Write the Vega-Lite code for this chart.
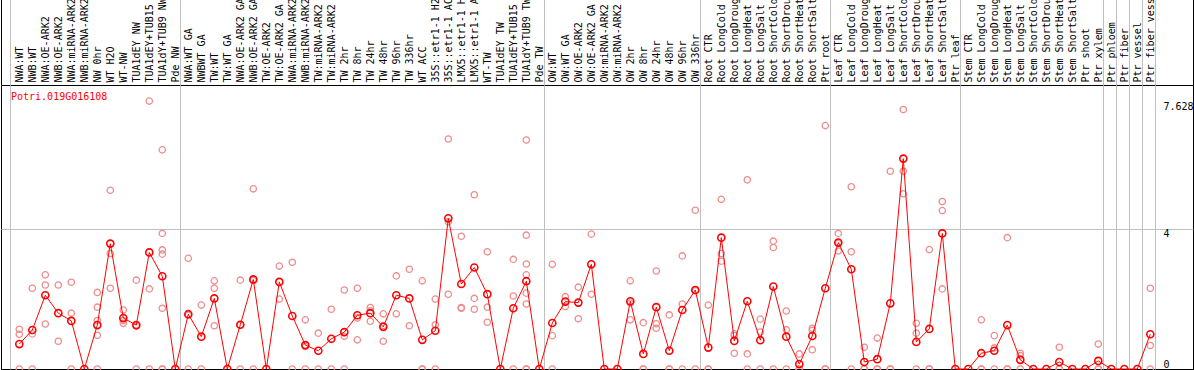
{
  "$schema": "https://vega.github.io/schema/vega-lite/v6.json",
  "width": 1192,
  "height": 284,
  "padding": {"left": 1, "top": 85, "right": 1, "bottom": 1},
  "autosize": {"type": "none"},
  "background": "white",
  "config": {
    "view": {"stroke": "black", "strokeWidth": 1},
    "font": "DejaVu Sans Mono"
  },
  "datasets": {
    "means": [
      {"gene":"Potri.019G016108","i":0,"name":"NWA:WT","v":0.71},{"gene":"Potri.019G016108","i":1,"name":"NWB:WT","v":1.11},{"gene":"Potri.019G016108","i":2,"name":"NWA:OE-ARK2","v":2.10},{"gene":"Potri.019G016108","i":3,"name":"NWB:OE-ARK2","v":1.59},
      {"gene":"Potri.019G016108","i":4,"name":"NWA:miRNA-ARK2","v":1.37},{"gene":"Potri.019G016108","i":5,"name":"NWB:miRNA-ARK2","v":0},{"gene":"Potri.019G016108","i":6,"name":"NW 0hr","v":1.25},{"gene":"Potri.019G016108","i":7,"name":"WT H2O","v":3.57},
      {"gene":"Potri.019G016108","i":8,"name":"WT-NW","v":1.45},{"gene":"Potri.019G016108","i":9,"name":"TUA1dEY NW","v":1.25},{"gene":"Potri.019G016108","i":10,"name":"TUA1dEY+TUB15 NW","v":3.32},{"gene":"Potri.019G016108","i":11,"name":"TUA1dY+TUB9 NW","v":2.64},
      {"gene":"Potri.019G016108","i":12,"name":"Pde NW","v":0},{"gene":"Potri.019G016108","i":13,"name":"NWA:WT GA","v":1.56},{"gene":"Potri.019G016108","i":14,"name":"NWBWT GA","v":0.92},{"gene":"Potri.019G016108","i":15,"name":"TW:WT","v":2.01},
      {"gene":"Potri.019G016108","i":16,"name":"TW:WT GA","v":0},{"gene":"Potri.019G016108","i":17,"name":"NWA:OE-ARK2 GA","v":1.26},{"gene":"Potri.019G016108","i":18,"name":"NWB:OE-ARK2 GA","v":2.55},{"gene":"Potri.019G016108","i":19,"name":"TW:OE-ARK2","v":0},
      {"gene":"Potri.019G016108","i":20,"name":"TW:OE-ARK2 GA","v":2.48},{"gene":"Potri.019G016108","i":21,"name":"NWA:miRNA-ARK2 GA","v":1.51},{"gene":"Potri.019G016108","i":22,"name":"NWB:miRNA-ARK2 GA","v":0.68},{"gene":"Potri.019G016108","i":23,"name":"TW:miRNA-ARK2","v":0.52},
      {"gene":"Potri.019G016108","i":24,"name":"TW:miRNA-ARK2 GA","v":0.86},{"gene":"Potri.019G016108","i":25,"name":"TW 2hr","v":1.05},{"gene":"Potri.019G016108","i":26,"name":"TW 8hr","v":1.53},{"gene":"Potri.019G016108","i":27,"name":"TW 24hr","v":1.59},
      {"gene":"Potri.019G016108","i":28,"name":"TW 48hr","v":1.20},{"gene":"Potri.019G016108","i":29,"name":"TW 96hr","v":2.10},{"gene":"Potri.019G016108","i":30,"name":"TW 336hr","v":2.01},{"gene":"Potri.019G016108","i":31,"name":"WT ACC","v":0.83},
      {"gene":"Potri.019G016108","i":32,"name":"35S::etr1-1 H2O","v":1.09},{"gene":"Potri.019G016108","i":33,"name":"35S::etr1-1 ACC","v":4.29},{"gene":"Potri.019G016108","i":34,"name":"LMX5::etr1-1 H2O","v":2.42},{"gene":"Potri.019G016108","i":35,"name":"LMX5::etr1-1 ACC","v":2.89},
      {"gene":"Potri.019G016108","i":36,"name":"WT-TW","v":2.13},{"gene":"Potri.019G016108","i":37,"name":"TUA1dEY TW","v":0},{"gene":"Potri.019G016108","i":38,"name":"TUA1dEY+TUB15 TW","v":1.73},{"gene":"Potri.019G016108","i":39,"name":"TUA1dY+TUB9 TW","v":2.50},
      {"gene":"Potri.019G016108","i":40,"name":"Pde TW","v":0},{"gene":"Potri.019G016108","i":41,"name":"OW:WT","v":1.31},{"gene":"Potri.019G016108","i":42,"name":"OW:WT GA","v":1.92},{"gene":"Potri.019G016108","i":43,"name":"OW:OE-ARK2","v":1.89},
      {"gene":"Potri.019G016108","i":44,"name":"OW:OE-ARK2 GA","v":2.98},{"gene":"Potri.019G016108","i":45,"name":"OW:miRNA-ARK2","v":0},{"gene":"Potri.019G016108","i":46,"name":"OW:miRNA-ARK2 GA","v":0},{"gene":"Potri.019G016108","i":47,"name":"OW 2hr","v":1.93},
      {"gene":"Potri.019G016108","i":48,"name":"OW 8hr","v":0.43},{"gene":"Potri.019G016108","i":49,"name":"OW 24hr","v":1.76},{"gene":"Potri.019G016108","i":50,"name":"OW 48hr","v":0.52},{"gene":"Potri.019G016108","i":51,"name":"OW 96hr","v":1.68},
      {"gene":"Potri.019G016108","i":52,"name":"OW 336hr","v":2.25},{"gene":"Potri.019G016108","i":53,"name":"Root CTR","v":0.61},{"gene":"Potri.019G016108","i":54,"name":"Root LongCold","v":3.74},{"gene":"Potri.019G016108","i":55,"name":"Root LongDrought","v":0.80},
      {"gene":"Potri.019G016108","i":56,"name":"Root LongHeat","v":1.93},{"gene":"Potri.019G016108","i":57,"name":"Root LongSalt","v":0.82},{"gene":"Potri.019G016108","i":58,"name":"Root ShortCold","v":2.35},{"gene":"Potri.019G016108","i":59,"name":"Root ShortDrought","v":0.92},
      {"gene":"Potri.019G016108","i":60,"name":"Root ShortHeat","v":0.14},{"gene":"Potri.019G016108","i":61,"name":"Root ShortSalt","v":0.94},{"gene":"Potri.019G016108","i":62,"name":"Ptr root","v":2.30},{"gene":"Potri.019G016108","i":63,"name":"Leaf CTR","v":3.60},
      {"gene":"Potri.019G016108","i":64,"name":"Leaf LongCold","v":2.84},{"gene":"Potri.019G016108","i":65,"name":"Leaf LongDrought","v":0.20},{"gene":"Potri.019G016108","i":66,"name":"Leaf LongHeat","v":0.28},{"gene":"Potri.019G016108","i":67,"name":"Leaf LongSalt","v":1.87},
      {"gene":"Potri.019G016108","i":68,"name":"Leaf ShortCold","v":5.99},{"gene":"Potri.019G016108","i":69,"name":"Leaf ShortDrought","v":0.77},{"gene":"Potri.019G016108","i":70,"name":"Leaf ShortHeat","v":1.14},{"gene":"Potri.019G016108","i":71,"name":"Leaf ShortSalt","v":3.86},
      {"gene":"Potri.019G016108","i":72,"name":"Ptr leaf","v":0},{"gene":"Potri.019G016108","i":73,"name":"Stem CTR","v":0},{"gene":"Potri.019G016108","i":74,"name":"Stem LongCold","v":0.45},{"gene":"Potri.019G016108","i":75,"name":"Stem LongDrought","v":0.52},
      {"gene":"Potri.019G016108","i":76,"name":"Stem LongHeat","v":1.25},{"gene":"Potri.019G016108","i":77,"name":"Stem LongSalt","v":0.26},{"gene":"Potri.019G016108","i":78,"name":"Stem ShortCold","v":0},{"gene":"Potri.019G016108","i":79,"name":"Stem ShortDrought","v":0},
      {"gene":"Potri.019G016108","i":80,"name":"Stem ShortHeat","v":0.20},{"gene":"Potri.019G016108","i":81,"name":"Stem ShortSalt","v":0},{"gene":"Potri.019G016108","i":82,"name":"Ptr shoot","v":0},{"gene":"Potri.019G016108","i":83,"name":"Ptr xylem","v":0.23},
      {"gene":"Potri.019G016108","i":84,"name":"Ptr phloem","v":0},{"gene":"Potri.019G016108","i":85,"name":"Ptr fiber","v":0},{"gene":"Potri.019G016108","i":86,"name":"Ptr vessel","v":0},{"gene":"Potri.019G016108","i":87,"name":"Ptr fiber vessel","v":0.99}
    ],
    "reps": [
      {"i":0,"v":1.13},{"i":0,"v":0.99},{"i":0,"v":0},
      {"i":1,"v":2.30},{"i":1,"v":1.00},{"i":1,"v":0},
      {"i":2,"v":2.68},{"i":2,"v":2.39},{"i":2,"v":1.28},
      {"i":3,"v":2.39},{"i":3,"v":0.79},
      {"i":4,"v":2.47},{"i":4,"v":1.59},{"i":4,"v":0},
      {"i":6,"v":2.18},{"i":6,"v":1.76},{"i":6,"v":1.38},{"i":6,"v":0.96},{"i":6,"v":0},
      {"i":7,"v":5.09},{"i":7,"v":3.29},{"i":7,"v":2.30},
      {"i":8,"v":1.68},{"i":8,"v":1.38},{"i":8,"v":1.30},
      {"i":9,"v":2.53},{"i":9,"v":1.22},{"i":9,"v":0},
      {"i":10,"v":7.628},{"i":10,"v":2.28},{"i":10,"v":0},
      {"i":11,"v":6.24},{"i":11,"v":3.86},{"i":11,"v":3.39},{"i":11,"v":3.27},{"i":11,"v":1.73},{"i":11,"v":0},{"i":11,"v":0},
      {"i":13,"v":3.15},{"i":13,"v":1.53},{"i":13,"v":0},
      {"i":14,"v":1.82},{"i":14,"v":0},
      {"i":15,"v":2.51},{"i":15,"v":2.30},{"i":15,"v":1.23},
      {"i":17,"v":2.53},{"i":17,"v":1.25},{"i":17,"v":0},
      {"i":18,"v":5.13},{"i":18,"v":2.52},{"i":18,"v":0},
      {"i":20,"v":2.93},{"i":20,"v":1.99},
      {"i":21,"v":3.04},{"i":21,"v":0},
      {"i":22,"v":1.40},{"i":22,"v":0.64},{"i":22,"v":0},
      {"i":23,"v":1.02},{"i":23,"v":0},
      {"i":24,"v":1.70},{"i":24,"v":0},
      {"i":25,"v":2.25},{"i":25,"v":0.93},{"i":25,"v":0},
      {"i":26,"v":2.30},{"i":26,"v":1.45},{"i":26,"v":0.83},
      {"i":27,"v":1.75},{"i":27,"v":1.66},{"i":27,"v":1.36},
      {"i":28,"v":1.57},{"i":28,"v":1.24},{"i":28,"v":0.79},
      {"i":29,"v":2.65},{"i":29,"v":1.57},
      {"i":30,"v":2.84},{"i":30,"v":1.23},
      {"i":31,"v":2.51},{"i":31,"v":0},{"i":31,"v":0},
      {"i":32,"v":1.99},{"i":32,"v":1.26},{"i":32,"v":0},
      {"i":33,"v":6.55},{"i":33,"v":4.19},{"i":33,"v":2.13},
      {"i":34,"v":3.78},{"i":34,"v":1.75},{"i":34,"v":1.73},
      {"i":35,"v":4.96},{"i":35,"v":2.01},{"i":35,"v":1.70},
      {"i":36,"v":3.34},{"i":36,"v":1.76},{"i":36,"v":1.33},
      {"i":38,"v":3.12},{"i":38,"v":2.08},{"i":38,"v":0},
      {"i":39,"v":6.52},{"i":39,"v":3.81},{"i":39,"v":2.99},{"i":39,"v":2.68},{"i":39,"v":2.16},{"i":39,"v":1.85},{"i":39,"v":0},{"i":39,"v":0},
      {"i":41,"v":2.98},{"i":41,"v":0.95},{"i":41,"v":0},
      {"i":42,"v":2.06},{"i":42,"v":1.78},
      {"i":43,"v":2.33},{"i":43,"v":1.43},
      {"i":44,"v":3.84},{"i":44,"v":2.13},
      {"i":47,"v":2.51},{"i":47,"v":1.88},{"i":47,"v":1.40},
      {"i":48,"v":1.32},{"i":48,"v":0},{"i":48,"v":0},
      {"i":49,"v":2.79},{"i":49,"v":1.29},{"i":49,"v":1.16},
      {"i":50,"v":1.54},{"i":50,"v":0},{"i":50,"v":0},
      {"i":51,"v":3.22},{"i":51,"v":1.85},{"i":51,"v":0},
      {"i":52,"v":4.52},{"i":52,"v":2.23},{"i":52,"v":0},
      {"i":53,"v":1.82},{"i":53,"v":0},{"i":53,"v":0},
      {"i":54,"v":4.83},{"i":54,"v":3.29},{"i":54,"v":3.07},
      {"i":55,"v":1.00},{"i":55,"v":0.95},{"i":55,"v":0.45},
      {"i":56,"v":5.39},{"i":56,"v":0.43},{"i":56,"v":0},
      {"i":57,"v":1.42},{"i":57,"v":1.05},{"i":57,"v":0},
      {"i":58,"v":3.64},{"i":58,"v":3.46},{"i":58,"v":0},
      {"i":59,"v":1.65},{"i":59,"v":1.12},{"i":59,"v":0},
      {"i":60,"v":0.43},{"i":60,"v":0},{"i":60,"v":0},
      {"i":61,"v":1.16},{"i":61,"v":1.10},{"i":61,"v":0.55},
      {"i":62,"v":6.93},{"i":62,"v":0},{"i":62,"v":0},
      {"i":63,"v":3.86},{"i":63,"v":3.58},{"i":63,"v":3.36},
      {"i":64,"v":5.19},{"i":64,"v":3.34},{"i":64,"v":0},
      {"i":65,"v":0.62},{"i":65,"v":0},{"i":65,"v":0},
      {"i":66,"v":0.88},{"i":66,"v":0},{"i":66,"v":0},
      {"i":67,"v":5.63},{"i":67,"v":0},{"i":67,"v":0},
      {"i":68,"v":7.39},{"i":68,"v":5.63},{"i":68,"v":4.99},
      {"i":69,"v":1.30},{"i":69,"v":1.02},{"i":69,"v":0},
      {"i":70,"v":3.40},{"i":70,"v":0},{"i":70,"v":0},
      {"i":71,"v":4.77},{"i":71,"v":4.51},{"i":71,"v":2.28},
      {"i":74,"v":1.40},{"i":74,"v":0},{"i":74,"v":0},
      {"i":75,"v":0.95},{"i":75,"v":0.60},{"i":75,"v":0},
      {"i":76,"v":3.74},{"i":76,"v":0},{"i":76,"v":0},
      {"i":77,"v":0.45},{"i":77,"v":0.38},{"i":77,"v":0},
      {"i":80,"v":0.62},{"i":80,"v":0},{"i":80,"v":0},
      {"i":83,"v":0.71},{"i":83,"v":0},{"i":83,"v":0},
      {"i":87,"v":2.30},{"i":87,"v":0.67},{"i":87,"v":0}
    ]
  },
  "encoding": {
    "x": {
      "field": "i", "type": "quantitative",
      "scale": {"domain": [-1.4077, 90.285], "nice": false, "zero": false},
      "axis": {
        "orient": "top",
        "values": [-1.4077,-0.72,0,1,2,3,4,5,6,7,8,9,10,11,12,12.4,13,14,15,16,17,18,19,20,21,22,23,24,25,26,27,28,29,30,31,32,33,34,35,36,37,38,39,40,40.4,41,42,43,44,45,46,47,48,49,50,51,52,52.4,53,54,55,56,57,58,59,60,61,62,62.4,63,64,65,66,67,68,69,70,71,72,72.4,73,74,75,76,77,78,79,80,81,82,83,83.4,84,84.4,85,85.4,86,86.4,87,87.4,90.285],
        "labelExpr": "datum.value % 1 !== 0 ? '' : ['NWA:WT','NWB:WT','NWA:OE-ARK2','NWB:OE-ARK2','NWA:miRNA-ARK2','NWB:miRNA-ARK2','NW 0hr','WT H2O','WT-NW','TUA1dEY NW','TUA1dEY+TUB15 NW','TUA1dY+TUB9 NW','Pde NW','NWA:WT GA','NWBWT GA','TW:WT','TW:WT GA','NWA:OE-ARK2 GA','NWB:OE-ARK2 GA','TW:OE-ARK2','TW:OE-ARK2 GA','NWA:miRNA-ARK2 GA','NWB:miRNA-ARK2 GA','TW:miRNA-ARK2','TW:miRNA-ARK2 GA','TW 2hr','TW 8hr','TW 24hr','TW 48hr','TW 96hr','TW 336hr','WT ACC','35S::etr1-1 H2O','35S::etr1-1 ACC','LMX5::etr1-1 H2O','LMX5::etr1-1 ACC','WT-TW','TUA1dEY TW','TUA1dEY+TUB15 TW','TUA1dY+TUB9 TW','Pde TW','OW:WT','OW:WT GA','OW:OE-ARK2','OW:OE-ARK2 GA','OW:miRNA-ARK2','OW:miRNA-ARK2 GA','OW 2hr','OW 8hr','OW 24hr','OW 48hr','OW 96hr','OW 336hr','Root CTR','Root LongCold','Root LongDrought','Root LongHeat','Root LongSalt','Root ShortCold','Root ShortDrought','Root ShortHeat','Root ShortSalt','Ptr root','Leaf CTR','Leaf LongCold','Leaf LongDrought','Leaf LongHeat','Leaf LongSalt','Leaf ShortCold','Leaf ShortDrought','Leaf ShortHeat','Leaf ShortSalt','Ptr leaf','Stem CTR','Stem LongCold','Stem LongDrought','Stem LongHeat','Stem LongSalt','Stem ShortCold','Stem ShortDrought','Stem ShortHeat','Stem ShortSalt','Ptr shoot','Ptr xylem','Ptr phloem','Ptr fiber','Ptr vessel','Ptr fiber vessel'][datum.value]",
        "labelAngle": 270,
        "labelAlign": "left",
        "labelBaseline": "middle",
        "labelPadding": -83,
        "labelFlush": false,
        "labelOverlap": false,
        "labelBound": false,
        "labelLimit": 400,
        "labelFont": "DejaVu Sans Mono",
        "labelFontSize": 10,
        "labelColor": "black",
        "ticks": true,
        "tickSize": 86,
        "tickWidth": 1,
        "tickColor": {"condition": [{"test": "datum.value < -1 || datum.value > 90", "value": "black"}, {"test": "datum.value % 1 !== 0", "value": "#c0c0c0"}], "value": "transparent"},
        "domain": false,
        "grid": true,
        "gridWidth": 1,
        "gridColor": {"condition": [{"test": "datum.value < -1 || datum.value > 90", "value": "black"}, {"test": "datum.value % 1 !== 0", "value": "#c0c0c0"}], "value": "transparent"},
        "title": null
      }
    },
    "y": {
      "field": "v", "type": "quantitative",
      "scale": {"domain": [0, 8.086], "nice": false, "zero": true},
      "axis": {
        "orient": "right",
        "values": [0, 4, 7.628],
        "labelExpr": "format(datum.value, '.4~g')",
        "labelAlign": "left",
        "labelPadding": -30,
        "labelBaseline": {"condition": {"test": "datum.value === 0", "value": "bottom"}, "value": "top"},
        "labelFlush": false,
        "labelOverlap": false,
        "labelFont": "DejaVu Sans Mono",
        "labelFontSize": 10,
        "labelColor": "black",
        "ticks": false,
        "domain": false,
        "grid": true,
        "gridColor": {"condition": {"test": "datum.value === 4", "value": "#c0c0c0"}, "value": "transparent"},
        "gridWidth": 1,
        "title": null
      }
    }
  },
  "layer": [
    {
      "data": {"name": "reps"},
      "mark": {"type": "point", "shape": "circle", "filled": false, "stroke": "#f08c8c", "strokeWidth": 1.3, "size": 40, "opacity": 1}
    },
    {
      "data": {"name": "means"},
      "mark": {"type": "line", "strokeWidth": 1},
      "encoding": {
        "color": {
          "field": "gene", "type": "nominal",
          "scale": {"range": ["#ff0000"]},
          "legend": {
            "orient": "none", "legendX": -1, "legendY": 7, "title": null, "padding": 0,
            "symbolSize": 0, "symbolOpacity": 0, "symbolStrokeWidth": 0,
            "labelOffset": 1, "labelColor": "#ff0000", "labelFont": "DejaVu Sans Mono", "labelFontSize": 10, "labelBaseline": "middle"
          }
        }
      }
    },
    {
      "data": {"name": "means"},
      "mark": {"type": "point", "shape": "circle", "filled": false, "strokeWidth": 1.6, "size": 50, "opacity": 1},
      "encoding": {
        "color": {"field": "gene", "type": "nominal", "scale": {"range": ["#ff0000"]}}
      }
    }
  ]
}
